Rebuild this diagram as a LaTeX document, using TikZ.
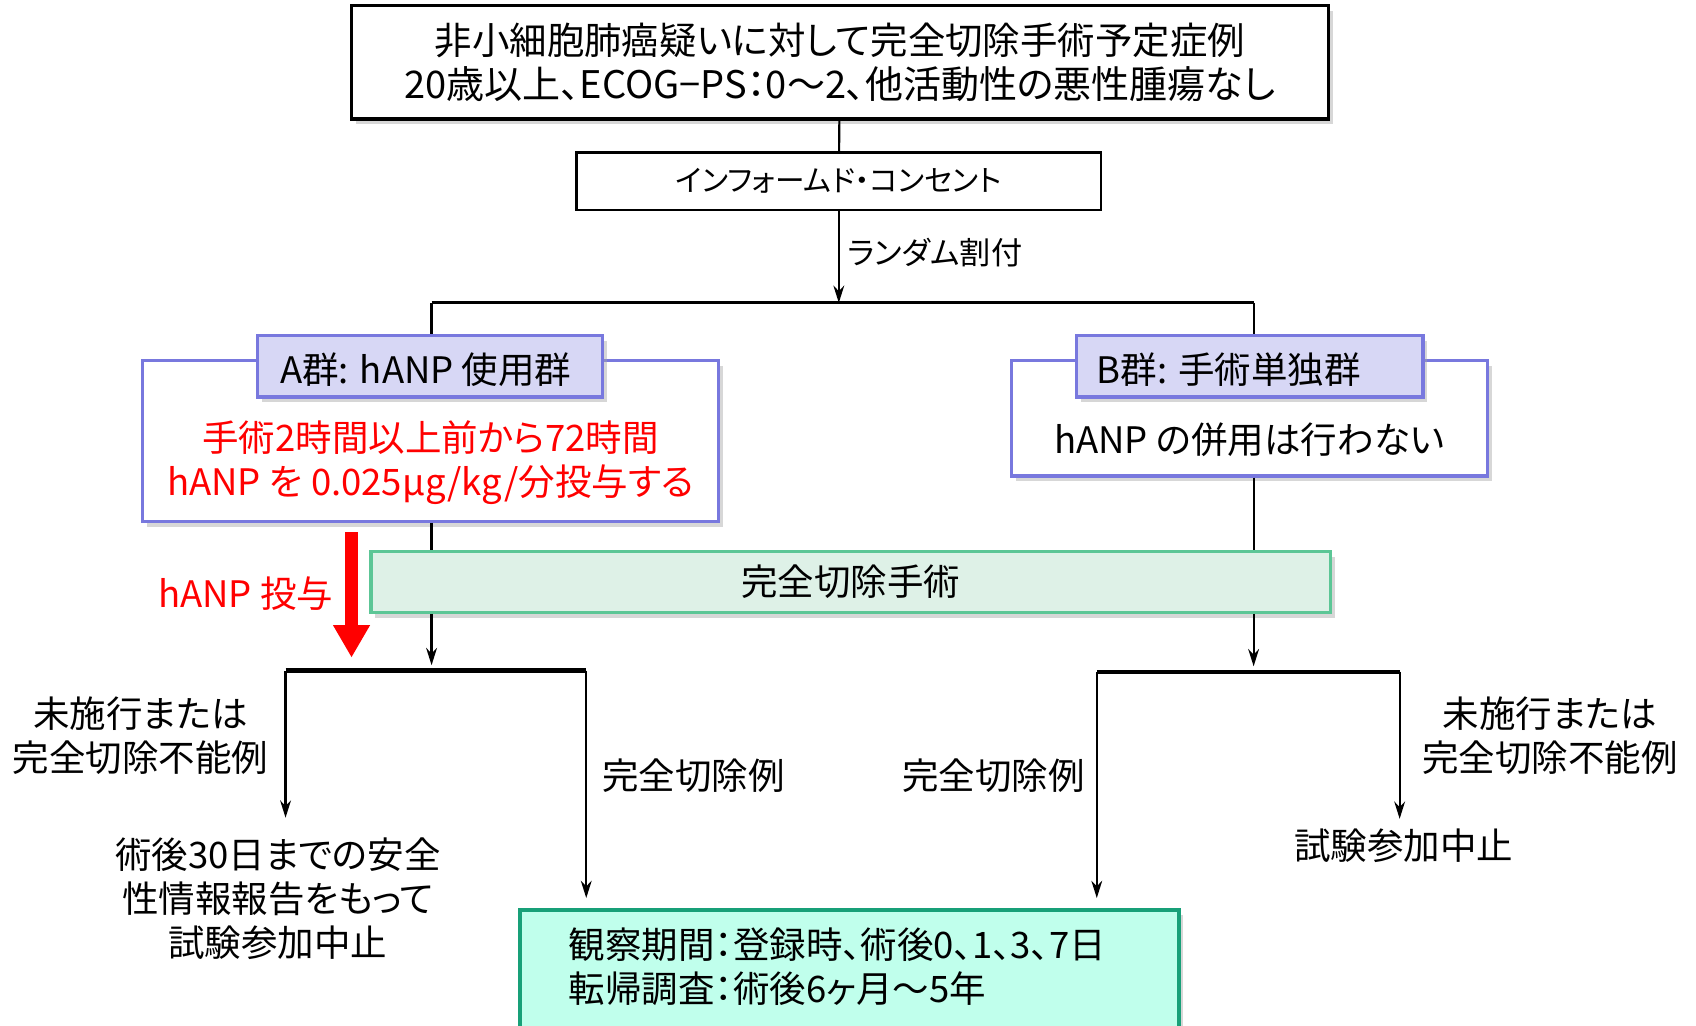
\documentclass[tikz,border=0pt]{standalone}
\usepackage{fontspec}
\setmainfont[RawFeature=+palt]{Noto Sans CJK JP}
\usetikzlibrary{arrows.meta,shadows}

\definecolor{grpline}{RGB}{120,120,222}
\definecolor{grpfill}{RGB}{215,215,245}
\definecolor{opeline}{RGB}{92,198,150}
\definecolor{opefill}{RGB}{222,241,231}
\definecolor{obsline}{RGB}{24,160,120}
\definecolor{obsfill}{RGB}{192,255,236}

\newlength{\pxu}\setlength{\pxu}{0.2mm}
\newcommand{\txtL}{\fontsize{19.2pt}{23.2pt}\selectfont}
\newcommand{\txtS}{\fontsize{15.6pt}{18pt}\selectfont}
\newcommand{\txtR}{\fontsize{16.4pt}{19pt}\selectfont}

\tikzset{
  shade box/.style={drop shadow={shadow xshift=4\pxu,shadow yshift=-5\pxu,fill=black!35,opacity=.45}},
  casebox/.style={draw,line width=3\pxu,fill=white,inner sep=0pt,align=center,shade box},
  icbox/.style={draw,line width=2\pxu,fill=white,inner sep=0pt},
  grpbox/.style={draw=grpline,line width=3\pxu,fill=white,inner sep=0pt,shade box},
  grphead/.style={draw=grpline,line width=3\pxu,fill=grpfill,inner sep=0pt,shade box},
  opebox/.style={draw=opeline,line width=3\pxu,fill=opefill,inner sep=0pt,shade box},
  obsbox/.style={draw=obsline,line width=3.5\pxu,fill=obsfill,inner sep=0pt,shade box},
  lbl/.style={inner sep=0pt,align=center},
}

\begin{document}
\begin{tikzpicture}[x=0.2mm,y=-0.2mm,line width=0.4mm,>={Stealth[length=3.2mm,width=2mm]},font=\txtL]
%\draw[help lines] (0,0) grid[step=100] (1568,948);
\useasboundingbox (0,0) rectangle (1568,948);
\clip (0,0) rectangle (1568,948);

\node[casebox,minimum width=903\pxu,minimum height=105\pxu] (elig) at (776.5,57.5)
  {\fontsize{19.7pt}{23.6pt}\selectfont 非小細胞肺癌疑いに対して完全切除手術予定症例\\\fontsize{20pt}{23.6pt}\selectfont 20歳以上、ECOG−PS：0〜2、他活動性の悪性腫瘍なし};
\node[icbox,minimum width=485\pxu,minimum height=53\pxu] (ic) at (775.5,167.5) {\txtS インフォームド・コンセント};

\coordinate (rand) at (776,280);
\coordinate (ax) at (399,280);
\coordinate (bx) at (1159,280);

\draw (elig) -- (ic);
\draw[->] (ic) -- (ic.south |- rand) node[midway,right,lbl,xshift=7\pxu,yshift=4\pxu] (randlbl) {\txtR ランダム割付};

% groups
\node[grpbox,minimum width=532\pxu,minimum height=149\pxu] (Abox) at (398,407.5) {};
\node[grphead,minimum width=319\pxu,minimum height=57\pxu] (Ahead) at (397.5,338.5) {};
\node[lbl,anchor=west] (Ahdtxt) at (258,342) {A群: hANP 使用群};
\node[lbl,text=red] (Atxt) at (398,428) {手術2時間以上前から72時間\\hANP を 0.025μg/kg/分投与する};

\node[grpbox,minimum width=440\pxu,minimum height=107\pxu] (Bbox) at (1155,386.5) {};
\node[grphead,minimum width=320\pxu,minimum height=57\pxu] (Bhead) at (1155.5,338.5) {};
\node[lbl,anchor=west] (Bhdtxt) at (1013,342) {B群: 手術単独群};
\node[lbl] (Btxt) at (1155,407) {hANP の併用は行わない};

\draw[line width=3\pxu] (ax) -- (bx);
\draw (ax) -- (Ahead.north -| ax);
\draw (bx) -- (Bhead.north -| bx);

\node[opebox,minimum width=887\pxu,minimum height=56\pxu] (ope) at (786.5,538) {完全切除手術};
\draw (Abox.south -| ax) -- (ope.north -| ax);
\draw (Bbox.south -| bx) -- (ope.north -| bx);

% hANP dose
\coordinate (dose0) at (325,492);
\coordinate (dose1) at (325,608);
\draw[red,line width=12\pxu,-{Triangle[width=6.4mm,length=6mm]}] (dose0) -- (dose1);
\node[lbl,anchor=east,text=red] (doselbl) at (309,549) {hANP 投与};

% splits
\coordinate (la) at (264,620);
\coordinate (lb) at (542,620);
\coordinate (ra) at (1014,621);
\coordinate (rb) at (1294,621);
\coordinate (lend) at (264,756);
\coordinate (rend) at (1294,757);

\node[obsbox,minimum width=609\pxu,minimum height=125\pxu] (obs) at (785.5,903.5) {};
\node[lbl,anchor=west,align=left] (obstxt) at (525,893.5) {観察期間：登録時、術後0、1、3、7日\\転帰調査：術後6ヶ月〜5年};

\draw[->,shorten >=5\pxu] (ope.south -| ax) -- (ax |- la);
\draw[->,shorten >=5\pxu] (ope.south -| bx) -- (bx |- ra);
\draw[line width=4\pxu] (la) -- (lb);
\draw[line width=4\pxu] (ra) -- (rb);
\draw[->] (la) -- (lend);
\draw[->,shorten >=9\pxu] (lb) -- (lb |- obs.north);
\draw[->,shorten >=9\pxu] (ra) -- (ra |- obs.north);
\draw[->] (rb) -- (rend);

\node[lbl] (lnot) at (130,680) {未施行または\\完全切除不能例};
\node[lbl,anchor=west] (lcomp) at (556,717) {完全切除例};
\node[lbl] (lstop) at (257,830.5) {術後30日までの安全\\性情報報告をもって\\試験参加中止};
\node[lbl,anchor=east] (rcomp) at (1004,717) {完全切除例};
\node[lbl] (rnot) at (1433,680) {未施行または\\完全切除不能例};
\node[lbl] (rstop) at (1298,782) {試験参加中止};
\end{tikzpicture}
\end{document}
